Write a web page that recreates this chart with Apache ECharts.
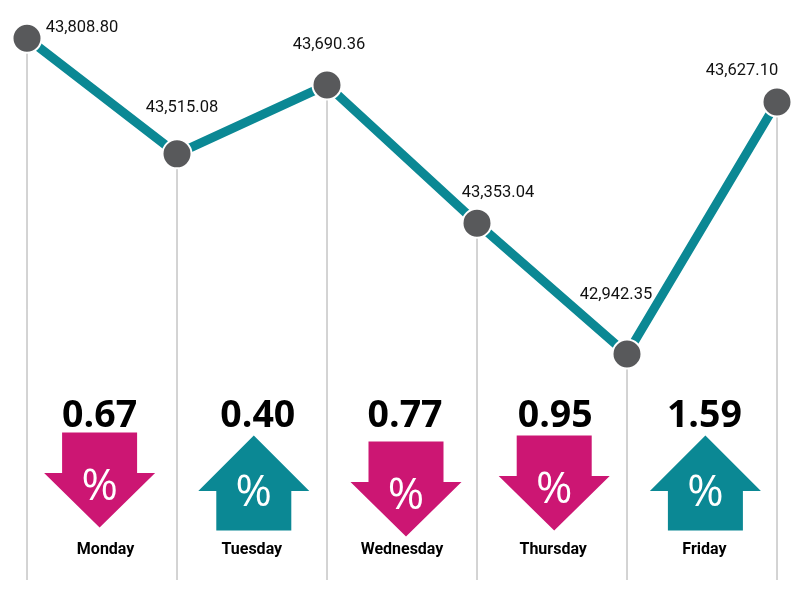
<!DOCTYPE html>
<html>
<head>
<meta charset="utf-8">
<title>Weekly index</title>
<script src="https://cdn.jsdelivr.net/npm/echarts@6/dist/echarts.min.js"></script>
<style>
    html, body { margin: 0; padding: 0; background: #fff; }
    #chart { width: 800px; height: 600px; }
</style>
</head>
<body>
<div id="chart"></div>
<script>
// index level per session, as drawn in the picture
var sessions = ['Previous', 'Monday', 'Tuesday', 'Wednesday', 'Thursday', 'Friday'];
var levels = [43814, 43495, 43685, 43304, 42943, 43638];
var levelLabels = ['43,808.80', '43,515.08', '43,690.36', '43,353.04', '42,942.35', '43,627.10'];

// daily change
var days = ['Monday', 'Tuesday', 'Wednesday', 'Thursday', 'Friday'];
var changes = ['0.67', '0.40', '0.77', '0.95', '1.59'];
var directions = ['down', 'up', 'down', 'down', 'up'];

var TEAL = '#0b8894';
var PINK = '#cc1673';
var FONT = '"Open Sans", sans-serif';
var NARROW = 'Roboto, sans-serif';
var LEVEL_MIN = 42320;
var LEVEL_MAX = 43820;

var ARROW_DOWN = 'path://M18 0H93V40H111L55.5 94L0 40H18Z';
var ARROW_UP = 'path://M55.5 0L111 55H93V94H18V55H0Z';

// label placement around each dot
var labelOffsets = [[55, -10], [5, -46], [2, -40], [21, -30], [-11, -59], [-35, -31]];
// the hand placed bits of the lower row, not quite on an even grid
var arrowShift = [[0, -3], [3, 0], [4, 6], [1, 0], [1, 0]];
var changeShift = [0, 7, 3, 2, 0];
var dayShift = [6, 1, 0, 0, 0];

var chart = echarts.init(document.getElementById('chart'));

chart.setOption({
    animation: false,
    backgroundColor: '#fff',
    grid: [
        {left: 27, width: 750, top: 36, height: 544},
        {left: 24, width: 756, top: 378, height: 140}
    ],
    xAxis: [
        {
            gridIndex: 0,
            type: 'category',
            boundaryGap: false,
            data: sessions,
            show: false
        },
        {
            gridIndex: 1,
            type: 'category',
            data: days.map(function (d, i) {
                return {value: d, textStyle: {padding: [0, 0, 0, dayShift[i] * 2]}};
            }),
            axisLine: {show: false},
            axisTick: {show: false},
            axisLabel: {
                margin: 24,
                fontFamily: NARROW,
                fontSize: 16,
                fontWeight: 'bold',
                color: '#000'
            }
        }
    ],
    yAxis: [
        {gridIndex: 0, type: 'value', min: LEVEL_MIN, max: LEVEL_MAX, show: false},
        {gridIndex: 1, type: 'category', data: ['arrow', 'change'], show: false}
    ],
    series: [
        {
            // the thin drop lines under each dot
            type: 'custom',
            xAxisIndex: 0,
            yAxisIndex: 0,
            data: levels,
            clip: false,
            renderItem: function (params, api) {
                var top = api.coord([params.dataIndex, api.value(1)]);
                var bottom = api.coord([params.dataIndex, LEVEL_MIN]);
                return {
                    type: 'line',
                    shape: {x1: top[0], y1: top[1], x2: bottom[0], y2: bottom[1]},
                    style: {stroke: '#a8a8a8', lineWidth: 1}
                };
            },
            z: 1
        },
        {
            type: 'line',
            xAxisIndex: 0,
            yAxisIndex: 0,
            data: levels.map(function (v, i) {
                return {
                    value: v,
                    label: {
                        show: true,
                        position: 'inside',
                        offset: labelOffsets[i],
                        formatter: levelLabels[i],
                        fontFamily: NARROW,
                        fontSize: 16.5,
                        color: '#111'
                    }
                };
            }),
            clip: false,
            symbol: 'circle',
            symbolSize: 29,
            lineStyle: {color: TEAL, width: 9},
            itemStyle: {color: '#58595b', borderColor: '#fff', borderWidth: 2},
            z: 3
        },
        {
            type: 'scatter',
            xAxisIndex: 1,
            yAxisIndex: 1,
            data: days.map(function (d, i) {
                var isUp = directions[i] === 'up';
                return {
                    value: [d, 'arrow'],
                    symbol: isUp ? ARROW_UP : ARROW_DOWN,
                    symbolOffset: arrowShift[i],
                    itemStyle: {color: isUp ? TEAL : PINK, opacity: 1},
                    label: {offset: [0, isUp ? 10 : 7]}
                };
            }),
            symbolSize: [111, 95],
            label: {
                show: true,
                position: 'inside',
                formatter: '%',
                fontFamily: FONT,
                fontSize: 44,
                fontWeight: 'normal',
                color: '#fff'
            },
            z: 2
        },
        {
            type: 'scatter',
            xAxisIndex: 1,
            yAxisIndex: 1,
            data: days.map(function (d, i) {
                return {
                    value: [d, 'change'],
                    label: {formatter: changes[i], offset: [changeShift[i], 3]}
                };
            }),
            symbolSize: 0,
            itemStyle: {opacity: 1},
            label: {
                show: true,
                position: 'inside',
                fontFamily: FONT,
                fontSize: 37.5,
                fontWeight: 'bold',
                color: '#000'
            },
            z: 2
        }
    ]
});
</script>
</body>
</html>
